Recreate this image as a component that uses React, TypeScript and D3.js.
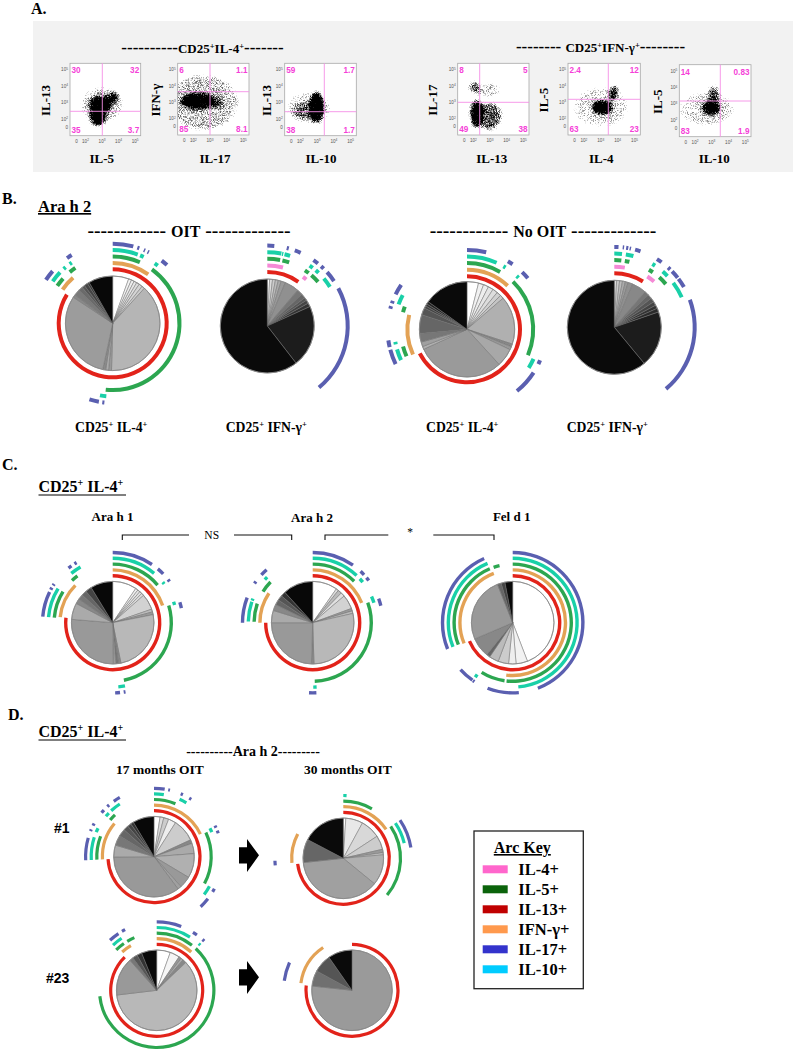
import React from "react";
import * as d3 from "d3";

type Span = [number, number];
type Rings = Span[][];
type Blob = [number, number, number, number, number, number];

const RED = "#e2231a", ORANGE = "#e3a255", GREEN = "#2ca650", TEAL = "#19d0a8", PURPLE = "#5a5fb0", PINK = "#f58ad6";
const il4Colors = [RED, ORANGE, GREEN, TEAL, PURPLE];
const ifnColors = [RED, PINK, GREEN, TEAL, PURPLE];

// ---------- panel B ----------
const b1Values = [5.5, 1, 1, 1, 1, 1.2, 1, 38.7, 1, 1, 1, 30.9, 1, 2, 1.5, 1, 1.2, 0.7, 8.3];
const b1Shades = ["#fff", "#f4f4f4", "#eee", "#e6e6e6", "#ddd", "#d5d5d5", "#ccc", "#b5b5b5", "#999", "#aaa", "#8a8a8a", "#9c9c9c", "#888", "#7a7a7a", "#6a6a6a", "#555", "#444", "#333", "#080808"];
const b1Arcs: Rings = [
  [[0, 302]],
  [[0, 36], [304, 319]],
  [[0, 24], [36, 186], [304, 312], [320, 326]],
  [[0, 20], [22, 25], [35, 38], [185, 190], [305, 314], [318, 320], [324, 326]],
  [[0, 15], [18, 19.5], [23, 24], [26, 27], [38, 43], [186, 187.5], [190, 197], [303, 311], [325, 329]],
];
const b2Values = [0.8, 1, 1, 1, 1, 1.5, 5, 2, 1.5, 1, 1.2, 1.3, 21.4, 60.8];
const b2Shades = ["#fff", "#ddd", "#ccc", "#bbb", "#aaa", "#999", "#909090", "#777", "#666", "#555", "#444", "#333", "#1c1c1c", "#0a0a0a"];
const b2Arcs: Rings = [
  [[0, 35]],
  [[0, 15], [36, 40]],
  [[0, 11], [13, 19], [34, 38], [41, 49]],
  [[0, 11], [11.5, 12.5], [13.5, 18], [35, 38], [41, 44], [50, 58]],
  [[0, 5], [14, 15.5], [20, 24.5], [35, 39], [42, 44.5], [48, 56], [62, 140]],
];
const b3Values = [4, 1.8, 1.8, 1.8, 1.8, 1.5, 1.3, 16.7, 1, 1.1, 6.3, 30.6, 1, 1.6, 3, 6.5, 2.5, 0.8, 0.8, 0.9, 15.5];
const b3Shades = ["#fff", "#f2f2f2", "#eee", "#e5e5e5", "#ddd", "#d0d0d0", "#c4c4c4", "#b0b0b0", "#888", "#999", "#a8a8a8", "#9a9a9a", "#b0b0b0", "#a0a0a0", "#777", "#666", "#555", "#444", "#333", "#222", "#0a0a0a"];
const b3Arcs: Rings = [
  [[0, 243]],
  [[0, 43], [245, 284]],
  [[0, 30], [44, 113], [246, 255], [285, 290]],
  [[0, 24], [30, 32], [43, 45], [114, 122], [245, 254], [258, 260], [290, 298]],
  [[0, 14], [31, 35], [44, 50], [113, 116], [123, 141], [244, 255], [257, 262], [285, 287], [289, 291], [296, 304]],
];
const b4Values = [0.8, 1, 1, 1, 1, 1.6, 5, 1.5, 1.5, 1.5, 1.3, 1.2, 1.3, 19.3, 61];
const b4Shades = ["#ddd", "#ccc", "#bbb", "#aaa", "#999", "#909090", "#888", "#777", "#666", "#555", "#444", "#333", "#2a2a2a", "#1c1c1c", "#0a0a0a"];
const b4Arcs: Rings = [
  [[0, 32]],
  [[0, 10], [33, 41]],
  [[0, 6], [9, 13], [31, 35], [42, 50]],
  [[0, 6], [9, 15], [31, 33.5], [41, 46], [53, 66]],
  [[0, 3], [6, 7], [8.5, 10], [11, 12], [15, 19], [32, 36], [42, 44], [46, 52], [53, 60], [70, 140]],
];

// ---------- panel C ----------
const c1Values = [9.4, 1, 1, 1, 1, 6.2, 1.1, 1.1, 24.8, 1, 1, 1, 26.4, 6.4, 2, 2, 2, 2.5, 8.7];
const c1Shades = ["#fff", "#eee", "#e6e6e6", "#e0e0e0", "#ddd", "#d2d2d2", "#bbb", "#999", "#b8b8b8", "#888", "#777", "#999", "#999", "#aaa", "#888", "#777", "#666", "#444", "#080808"];
const c1Arcs: Rings = [
  [[0, 276]],
  [[0, 71], [276, 315]],
  [[0, 50], [73, 169], [275, 302], [316, 323]],
  [[0, 40], [51, 53], [71, 74], [169, 175], [275, 302], [320, 330]],
  [[0, 34], [40, 46], [52, 54], [73, 78], [169.5, 171], [174, 178], [275, 296], [298, 300], [302, 303.5], [321, 324], [327, 329]],
];
const c2Values = [9.7, 1, 1.5, 1.6, 5.6, 1, 1, 28.1, 1, 24.5, 4.8, 2.5, 2, 2, 1.9, 11.8];
const c2Shades = ["#fff", "#ddd", "#bbb", "#e0e0e0", "#d2d2d2", "#999", "#bbb", "#b8b8b8", "#888", "#999", "#aaa", "#888", "#666", "#555", "#333", "#080808"];
const c2Arcs: Rings = [
  [[0, 270]],
  [[0, 68], [270, 304]],
  [[0, 45], [70, 178], [271, 289], [302, 314]],
  [[0, 43], [47, 51], [66, 72], [176.5, 179.5], [271, 289], [290, 292], [312, 315]],
  [[0, 35], [43, 47], [50, 53], [70, 76], [177, 183], [270, 291], [304, 306], [313, 319]],
];
const c3Values = [44, 4.5, 2.9, 4.1, 3.7, 1.4, 7.7, 25.3, 1.5, 1.5, 3];
const c3Shades = ["#fff", "#f2f2f2", "#eee", "#ccc", "#bbb", "#666", "#888", "#999", "#666", "#444", "#0a0a0a"];
const c3Arcs: Rings = [
  [[0, 247]],
  [[0, 187], [247, 339]],
  [[0, 186], [188, 212], [248, 337], [341, 347]],
  [[0, 175], [213, 216], [248, 337]],
  [[0, 159], [175, 201], [213, 214.5], [215, 228], [248, 336]],
];

// ---------- panel D ----------
const d1Values = [2.4, 1.5, 2, 3, 9.1, 1.5, 4.1, 9.7, 4.7, 1.5, 34.8, 4.7, 4, 3, 2, 1.5, 1.2, 8.5];
const d1Shades = ["#fff", "#ddd", "#ccc", "#eee", "#ccc", "#888", "#aaa", "#b0b0b0", "#999", "#a0a0a0", "#999", "#aaa", "#777", "#666", "#555", "#444", "#333", "#080808"];
const d1Arcs: Rings = [
  [[0, 267]],
  [[0, 64], [267, 310]],
  [[0, 22], [65, 118], [267, 291], [310, 317]],
  [[0, 9], [24, 31], [63, 67], [118, 127], [267, 288], [293, 297], [310, 314], [317, 327]],
  [[0, 9], [12, 13.5], [23, 25], [31, 33], [63, 65], [67.5, 70], [118, 121], [128, 137], [267, 286], [292, 293.5], [297, 299], [310, 313], [317, 319], [324, 330]],
];
const d2Values = [1, 6.9, 7.9, 5.6, 1.4, 0.8, 12.3, 37.4, 9.4, 17.3];
const d2Shades = ["#fff", "#e8e8e8", "#d8d8d8", "#ccc", "#999", "#c8c8c8", "#b0b0b0", "#a0a0a0", "#666", "#0a0a0a"];
const d2Arcs: Rings = [
  [[0, 263]],
  [[0, 56], [265, 298]],
  [[0, 30], [56, 130]],
  [[0, 3], [56, 76]],
  [[56, 81], [264, 268]],
];
const d3Values = [5.5, 3.9, 1, 1, 1.5, 60.3, 15.3, 1.5, 2, 2, 6.1];
const d3Shades = ["#fff", "#f6f6f6", "#999", "#aaa", "#888", "#b8b8b8", "#999", "#777", "#555", "#333", "#0a0a0a"];
const d3Arcs: Rings = [
  [[0, 316]],
  [[0, 42], [318, 330]],
  [[0, 38], [43, 264], [315, 325], [329, 337]],
  [[0, 32], [42, 44], [316, 326]],
  [[0, 21], [32, 36], [42, 44], [317, 326], [329.5, 332.5]],
];
const d4Values = [76.7, 6.3, 7.3, 9.7];
const d4Shades = ["#9a9a9a", "#707070", "#555", "#0a0a0a"];
const d4Arcs: Rings = [[[0, 276]], [[278, 326]], [], [], [[278, 294]]];

const pies = [
  { cx: 112.7, cy: 323.3, r: 47.3, base: 54, step: 6.4, w: 4, values: b1Values, shades: b1Shades, arcs: b1Arcs, colors: il4Colors },
  { cx: 267.3, cy: 326, r: 47, base: 54, step: 6.6, w: 4, values: b2Values, shades: b2Shades, arcs: b2Arcs, colors: ifnColors },
  { cx: 467, cy: 329.3, r: 47.7, base: 53, step: 6.6, w: 4, values: b3Values, shades: b3Shades, arcs: b3Arcs, colors: il4Colors },
  { cx: 614.3, cy: 327.3, r: 47, base: 54, step: 6.6, w: 4, values: b4Values, shades: b4Shades, arcs: b4Arcs, colors: ifnColors },
  { cx: 112.7, cy: 622.7, r: 41.3, base: 47, step: 5.8, w: 3.4, values: c1Values, shades: c1Shades, arcs: c1Arcs, colors: il4Colors },
  { cx: 312.7, cy: 622.7, r: 41.3, base: 47, step: 5.8, w: 3.4, values: c2Values, shades: c2Shades, arcs: c2Arcs, colors: il4Colors },
  { cx: 512.7, cy: 622.7, r: 41.3, base: 47, step: 5.8, w: 3.4, values: c3Values, shades: c3Shades, arcs: c3Arcs, colors: il4Colors },
  { cx: 154, cy: 856.7, r: 40.3, base: 46, step: 5.6, w: 3.2, values: d1Values, shades: d1Shades, arcs: d1Arcs, colors: il4Colors },
  { cx: 343.3, cy: 858.3, r: 40.3, base: 46, step: 5.6, w: 3.2, values: d2Values, shades: d2Shades, arcs: d2Arcs, colors: il4Colors },
  { cx: 156.7, cy: 990.3, r: 40.3, base: 46, step: 5.6, w: 3.2, values: d3Values, shades: d3Shades, arcs: d3Arcs, colors: il4Colors },
  { cx: 352, cy: 990.3, r: 40.3, base: 46, step: 5.6, w: 3.2, values: d4Values, shades: d4Shades, arcs: d4Arcs, colors: il4Colors },
];

// ---------- panel A ----------
const p1Blobs: Blob[] = [[3, 2.9, 1.25, 1.05, 0, 0.32], [2.75, 2.2, 0.5, 0.6, 0, 1], [2.9, 2.85, 0.65, 0.55, 0, 1], [3.5, 3.2, 0.6, 0.3, -30, 0.8]];
const p2Blobs: Blob[] = [[2.6, 3, 2.1, 1.7, 0, 0.36], [2.3, 3.08, 1.0, 0.5, 0, 1], [3.3, 3, 0.5, 0.35, 0, 0.45]];
const p3Blobs: Blob[] = [[2.5, 2.7, 1.3, 0.9, 0, 0.3], [2.96, 2.7, 0.42, 0.95, 0, 1], [2.3, 2.5, 0.7, 0.5, 0, 0.4]];
const p4Blobs: Blob[] = [[2.2, 2.3, 0.38, 0.85, 0, 1], [2.95, 2.15, 0.75, 0.85, 0, 0.6], [2.06, 3.94, 0.33, 0.33, 0, 0.6], [2.85, 3.75, 0.75, 0.45, 0, 0.32]];
const p5Blobs: Blob[] = [[3, 2.7, 1.6, 1.2, 0, 0.28], [3.1, 2.7, 0.6, 0.42, 0, 1], [3.75, 3.6, 0.26, 0.48, 20, 0.75]];
const p6Blobs: Blob[] = [[2.7, 2.7, 1.6, 1.0, 0, 0.3], [2.96, 2.76, 0.5, 0.42, 0, 1], [3.1, 3.6, 0.32, 0.55, 0, 0.6]];

const plots = [
  { x0: 70, x1: 140.7, y0: 63.3, y1: 135.7, vx: 102.3, hy: 111.3, pct: ["30", "32", "35", "3.7"], xLab: "IL-5", yLab: "IL-13", xLabX: 101.7, yLabX: 50, blobs: p1Blobs },
  { x0: 177.7, x1: 249, y0: 63.3, y1: 135, vx: 210, hy: 91.7, pct: ["6", "1.1", "85", "8.1"], xLab: "IL-17", yLab: "IFN-γ", xLabX: 215, yLabX: 160, blobs: p2Blobs },
  { x0: 284.7, x1: 356.3, y0: 63.3, y1: 135.7, vx: 324.3, hy: 111.7, pct: ["59", "1.7", "38", "1.7"], xLab: "IL-10", yLab: "IL-13", xLabX: 321, yLabX: 271, blobs: p3Blobs },
  { x0: 457.7, x1: 529, y0: 63.3, y1: 135, vx: 479.7, hy: 102.3, pct: ["8", "5", "49", "38"], xLab: "IL-13", yLab: "IL-17", xLabX: 491.7, yLabX: 437, blobs: p4Blobs },
  { x0: 568, x1: 640.3, y0: 63.3, y1: 135, vx: 608.3, hy: 99.3, pct: ["2.4", "12", "63", "23"], xLab: "IL-4", yLab: "IL-5", xLabX: 601.3, yLabX: 548, blobs: p5Blobs },
  { x0: 679.3, x1: 751, y0: 64.7, y1: 136.7, vx: 720.3, hy: 101, pct: ["14", "0.83", "83", "1.9"], xLab: "IL-10", yLab: "IL-5", xLabX: 714.3, yLabX: 662, blobs: p6Blobs },
];

const decadeTicks = [2, 3, 4, 5];
const legendLabels = ["IL-4+", "IL-5+", "IL-13+", "IFN-γ+", "IL-17+", "IL-10+"];
const legendColors = ["#ff66cc", "#0b630b", "#c00000", "#ff994d", "#3333cc", "#00ccff"];

const SERIF = "'Liberation Serif', serif";
const SANS = "'Liberation Sans', sans-serif";
const rad = (d: number) => (d * Math.PI) / 180;

function Pie({ p }: { p: (typeof pies)[number] }) {
  const slices = d3.pie<number>().sort(null).value((d) => d)(p.values);
  const sliceArc = d3.arc<d3.PieArcDatum<number>>().innerRadius(0).outerRadius(p.r);
  const ring = d3.arc();
  return (
    <g transform={`translate(${p.cx},${p.cy})`}>
      {slices.map((s, i) => (
        <path key={i} d={sliceArc(s) || ""} fill={p.shades[i]} stroke="#707070" strokeWidth={0.5} />
      ))}
      <circle r={p.r} fill="none" stroke="#8a8a8a" strokeWidth={0.9} />
      {p.arcs.map((spans, k) =>
        spans.map((sp, j) => {
          const rr = p.base + k * p.step;
          return (
            <path
              key={`${k}-${j}`}
              d={ring({ innerRadius: rr - p.w / 2, outerRadius: rr + p.w / 2, startAngle: rad(sp[0]), endAngle: rad(sp[1]) }) || ""}
              fill={p.colors[k]}
            />
          );
        })
      )}
    </g>
  );
}

function Cyto({ p, i }: { p: (typeof plots)[number]; i: number }) {
  const x = d3.scaleLinear().domain([1.06, 5.34]).range([p.x0, p.x1]);
  const y = d3.scaleLinear().domain([1, 5.4]).range([p.y1, p.y0]);
  const tick = { fontFamily: SANS, fontSize: 4.6, fill: "#555" };
  const pct = { fontFamily: SANS, fontWeight: 700, fontSize: 8.2, fill: "#f53fd8" };
  const midY = (p.y0 + p.y1) / 2 + 1;
  return (
    <g>
      <rect x={p.x0} y={p.y0} width={p.x1 - p.x0} height={p.y1 - p.y0} fill="#fff" stroke="#a8a8a8" strokeWidth={0.8} />
      <clipPath id={`clip${i}`}>
        <rect x={p.x0} y={p.y0} width={p.x1 - p.x0} height={p.y1 - p.y0} />
      </clipPath>
      <g clipPath={`url(#clip${i})`}>
        <g filter="url(#cyto)">
          {p.blobs.map((b, k) => (
            <ellipse
              key={k}
              cx={x(b[0])}
              cy={y(b[1])}
              rx={x(b[0] + b[2]) - x(b[0])}
              ry={y(b[1]) - y(b[1] + b[3])}
              fillOpacity={b[5]}
              fill="#000"
              transform={`rotate(${b[4]} ${x(b[0])} ${y(b[1])})`}
            />
          ))}
        </g>
      </g>
      <line x1={p.vx} x2={p.vx} y1={p.y0} y2={p.y1} stroke="#f58fe6" strokeWidth={0.9} />
      <line x1={p.x0} x2={p.x1} y1={p.hy} y2={p.hy} stroke="#f58fe6" strokeWidth={0.9} />
      {decadeTicks.map((t) => (
        <g key={t}>
          <text x={x(t)} y={p.y1 + 7} textAnchor="middle" {...tick}>
            10<tspan dy={-1.5} fontSize={3.2}>{t}</tspan>
          </text>
          <text x={p.x0 - 2} y={y(t) + 1.5} textAnchor="end" {...tick}>
            10<tspan dy={-1.5} fontSize={3.2}>{t}</tspan>
          </text>
        </g>
      ))}
      <text x={x(1.45)} y={p.y1 + 7} textAnchor="middle" {...tick}>0</text>
      <text x={p.x0 - 2} y={y(1.5) + 1.5} textAnchor="end" {...tick}>0</text>
      <text x={p.x0 + 1.5} y={p.y0 + 10} {...pct}>{p.pct[0]}</text>
      <text x={p.x1 - 1.5} y={p.y0 + 10} textAnchor="end" {...pct}>{p.pct[1]}</text>
      <text x={p.x0 + 1.5} y={p.y1 - 3} {...pct}>{p.pct[2]}</text>
      <text x={p.x1 - 1.5} y={p.y1 - 3} textAnchor="end" {...pct}>{p.pct[3]}</text>
      <text x={p.xLabX} y={162.5} textAnchor="middle" fontFamily={SERIF} fontWeight={700} fontSize={13}>{p.xLab}</text>
      <text transform={`translate(${p.yLabX},${midY}) rotate(-90)`} textAnchor="middle" fontFamily={SERIF} fontWeight={700} fontSize={13}>{p.yLab}</text>
    </g>
  );
}

function B({ x, y, size = 13, anchor = "start", u = false, children }: any) {
  return (
    <text x={x} y={y} fontFamily={SERIF} fontWeight={700} fontSize={size} textAnchor={anchor} textDecoration={u ? "underline" : undefined} fill="#000">
      {children}
    </text>
  );
}

function Cd({ x, y, tail, size = 13.7 }: any) {
  return (
    <B x={x} y={y} size={size}>
      CD25<tspan dy={-size * 0.35} fontSize={size * 0.62}>+</tspan>
      <tspan dy={size * 0.35}> {tail}</tspan>
      <tspan dy={-size * 0.35} fontSize={size * 0.62}>+</tspan>
    </B>
  );
}

function Bracket({ x0, x1, x2, x3, y }: { x0: number; x1: number; x2: number; x3: number; y: number }) {
  return (
    <path d={`M${x0},${y + 5}V${y}H${x1}M${x2},${y}H${x3}V${y + 5}`} fill="none" stroke="#111" strokeWidth={1.1} />
  );
}

function Arrow({ x, y }: { x: number; y: number }) {
  const xs = d3.scaleLinear().domain([0, 1]).range([x, x + 20]);
  const ys = d3.scaleLinear().domain([0, 1]).range([y, y + 33]);
  const pts: [number, number][] = [[0, 0.25], [0.4, 0.25], [0.4, 0], [1, 0.49], [0.4, 1], [0.4, 0.74], [0, 0.74]];
  return <polygon points={pts.map((q) => `${xs(q[0])},${ys(q[1])}`).join(" ")} fill="#000" />;
}

export default function App() {
  return (
    <svg width={795} height={1050} viewBox="0 0 795 1050" style={{ position: "absolute", left: 0, top: 0, display: "block", background: "#fff" }}>
      <defs>
        <filter id="cyto" x="-30%" y="-30%" width="160%" height="160%" colorInterpolationFilters="sRGB">
          <feGaussianBlur in="SourceAlpha" stdDeviation="2" result="b" />
          <feTurbulence type="fractalNoise" baseFrequency="1.6" numOctaves={2} seed={4} result="t" />
          <feColorMatrix in="t" type="matrix" values="0 0 0 0 0  0 0 0 0 0  0 0 0 0 0  2.2 0 0 0 -0.5" result="n" />
          <feComposite in="b" in2="n" operator="arithmetic" k1={0} k2={2.2} k3={1.1} k4={-1.3} result="c" />
          <feGaussianBlur in="c" stdDeviation="0.4" />
        </filter>
      </defs>

      {/* Panel A */}
      <rect x={33} y={21} width={760} height={151} fill="#f2f2f2" />
      <B x={31} y={14} size={16}>A.</B>
      <text x={202.5} y={52.7} textAnchor="middle" fontFamily={SERIF} fontWeight={700} fontSize={17}>
        ----------<tspan fontSize={13}>CD25</tspan><tspan fontSize={8.5} dy={-4}>+</tspan><tspan fontSize={13} dy={4}>IL-4</tspan><tspan fontSize={8.5} dy={-4}>+</tspan><tspan dy={4}>-------</tspan>
      </text>
      <text x={600.5} y={52} textAnchor="middle" fontFamily={SERIF} fontWeight={700} fontSize={17}>
        -------- <tspan fontSize={13}>CD25</tspan><tspan fontSize={8.5} dy={-4}>+</tspan><tspan fontSize={13} dy={4}>IFN-γ</tspan><tspan fontSize={8.5} dy={-4}>+</tspan><tspan dy={4}>--------</tspan>
      </text>
      {plots.map((p, i) => <Cyto key={i} p={p} i={i} />)}

      {/* Panel B */}
      <B x={2} y={204} size={16}>B.</B>
      <B x={38} y={212} size={16.5} u>Ara h 2</B>
      <text x={189} y={237} textAnchor="middle" fontFamily={SERIF} fontWeight={700} fontSize={19.7}>
        ------------ <tspan fontSize={16}>OIT</tspan> -------------
      </text>
      <text x={543} y={237} textAnchor="middle" fontFamily={SERIF} fontWeight={700} fontSize={19.7}>
        ------------ <tspan fontSize={16}>No OIT</tspan> -------------
      </text>
      <Cd x={75} y={432} tail="IL-4" />
      <Cd x={225.7} y={432} tail="IFN-γ" />
      <Cd x={426} y={432} tail="IL-4" />
      <Cd x={566.7} y={432} tail="IFN-γ" />

      {/* Panel C */}
      <B x={2} y={470} size={16}>C.</B>
      <Cd x={38.5} y={492} tail="IL-4" size={16} />
      <line x1={38.5} x2={126} y1={495} y2={495} stroke="#000" strokeWidth={1} />
      <B x={112.5} y={521} size={13} anchor="middle">Ara h 1</B>
      <B x={312} y={522} size={13} anchor="middle">Ara h 2</B>
      <B x={511.7} y={521} size={13} anchor="middle">Fel d 1</B>
      <Bracket x0={122.3} x1={189} x2={234} x3={291.7} y={535} />
      <Bracket x0={325} x1={388.3} x2={433.3} x3={494} y={535} />
      <text x={211.7} y={539} textAnchor="middle" fontFamily={SERIF} fontSize={11.5}>NS</text>
      <text x={410} y={536} textAnchor="middle" fontFamily={SERIF} fontSize={11.5}>*</text>

      {/* Panel D */}
      <B x={8} y={720} size={16}>D.</B>
      <Cd x={38.5} y={737} tail="IL-4" size={16} />
      <line x1={38.5} x2={126} y1={740} y2={740} stroke="#000" strokeWidth={1} />
      <text x={253} y={756} textAnchor="middle" fontFamily={SERIF} fontWeight={700} fontSize={14}>----------Ara h 2---------</text>
      <B x={160} y={774} size={13.5} anchor="middle">17 months OIT</B>
      <B x={348} y={774} size={13.5} anchor="middle">30 months OIT</B>
      <text x={54} y={833} fontFamily={SANS} fontWeight={700} fontSize={14}>#1</text>
      <text x={46} y={983} fontFamily={SANS} fontWeight={700} fontSize={14}>#23</text>
      <Arrow x={239} y={839} />
      <Arrow x={239} y={961} />

      {pies.map((p, i) => <Pie key={i} p={p} />)}

      {/* Legend */}
      <rect x={474} y={831} width={109.3} height={157.7} fill="#fff" stroke="#222" strokeWidth={1.3} />
      <B x={522.3} y={853} size={16} anchor="middle" u>Arc Key</B>
      {legendLabels.map((l, i) => (
        <g key={l}>
          <rect x={482.7} y={865.3 + i * 20} width={25} height={8} fill={legendColors[i]} />
          <B x={518.3} y={875 + i * 20} size={16.5}>{l}</B>
        </g>
      ))}
    </svg>
  );
}
